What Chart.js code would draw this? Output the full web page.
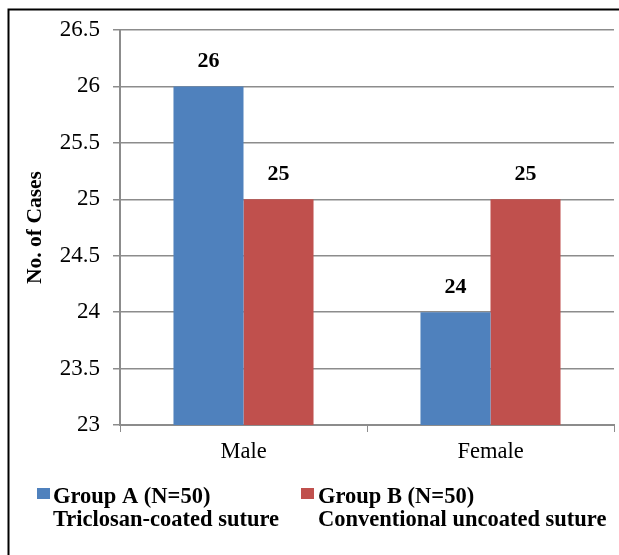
<!DOCTYPE html>
<html>
<head>
<meta charset="utf-8">
<script src="https://cdn.jsdelivr.net/npm/chart.js@4"></script>
<style>
html,body{margin:0;padding:0;background:#fff;}
#wrap{position:relative;width:619px;height:555px;}
canvas{display:block;}
</style>
</head>
<body>
<div id="wrap"><canvas id="c" width="619" height="555"></canvas></div>
<script>
const categories = ["Male", "Female"];
const groupA = [26, 24];
const groupB = [25, 25];
const seriesNamesLine1 = ["Group A (N=50)", "Group B (N=50)"];
const seriesNamesLine2 = ["Triclosan-coated suture", "Conventional uncoated suture"];
const yMin = 23, yMax = 26.5, yStep = 0.5;
const colors = ["#4F81BD", "#C0504D"];
const FONT = "'Liberation Serif', 'Times New Roman', serif";

const decor = {
  id: 'decor',
  afterDraw(chart) {
    const ctx = chart.ctx;
    ctx.save();
    // frame
    ctx.strokeStyle = '#000';
    ctx.lineWidth = 2;
    ctx.beginPath();
    ctx.moveTo(8.5, 560);
    ctx.lineTo(8.5, 9.5);
    ctx.lineTo(625, 9.5);
    ctx.stroke();
    // data labels
    ctx.fillStyle = '#000';
    ctx.font = "bold 22px " + FONT;
    ctx.textAlign = 'center';
    ctx.textBaseline = 'middle';
    chart.data.datasets.forEach((ds, i) => {
      const meta = chart.getDatasetMeta(i);
      meta.data.forEach((bar, j) => {
        ctx.fillText(String(ds.data[j]), bar.x, bar.y - 25);
      });
    });
    // legend
    const items = [{x: 37, tx: 53}, {x: 301, tx: 318}];
    items.forEach((it, i) => {
      ctx.fillStyle = colors[i];
      ctx.fillRect(it.x, 488, 13, 11);
      ctx.fillStyle = '#000';
      ctx.textAlign = 'left';
      ctx.font = "bold 22.5px " + FONT;
      ctx.fillText(seriesNamesLine1[i], it.tx, 497);
      ctx.fillText(seriesNamesLine2[i], it.tx, 520);
    });
    ctx.restore();
  }
};

new Chart(document.getElementById('c'), {
  type: 'bar',
  data: {
    labels: categories,
    datasets: [
      {label: seriesNamesLine1[0], data: groupA, backgroundColor: colors[0], categoryPercentage: 0.567, barPercentage: 1},
      {label: seriesNamesLine1[1], data: groupB, backgroundColor: colors[1], categoryPercentage: 0.567, barPercentage: 1}
    ]
  },
  options: {
    responsive: false,
    animation: false,
    devicePixelRatio: 1,
    layout: {padding: {top: 30, right: 5, bottom: 0, left: 0}},
    plugins: {legend: {display: false}, tooltip: {enabled: false}},
    scales: {
      x: {
        grid: {display: true, drawOnChartArea: false, color: '#8c8c8c', tickLength: 7, offset: true},
        border: {display: true, color: '#8c8c8c', width: 2},
        ticks: {color: '#000', font: {family: FONT, size: 22.5}, padding: 7},
        afterFit(s) { s.height = 130; }
      },
      y: {
        min: yMin, max: yMax,
        ticks: {stepSize: yStep, color: '#000', font: {family: FONT, size: 23}, padding: 13, callback: v => String(v)},
        grid: {color: '#8c8c8c', lineWidth: 1.5, tickLength: 7},
        border: {display: true, color: '#8c8c8c', width: 2},
        title: {display: true, text: 'No. of Cases', color: '#000', font: {family: FONT, size: 21.5, weight: 'bold'}, padding: {top: 23, bottom: 0}},
        afterFit(s) { s.width = 120; }
      }
    }
  },
  plugins: [decor]
});
</script>
</body>
</html>
